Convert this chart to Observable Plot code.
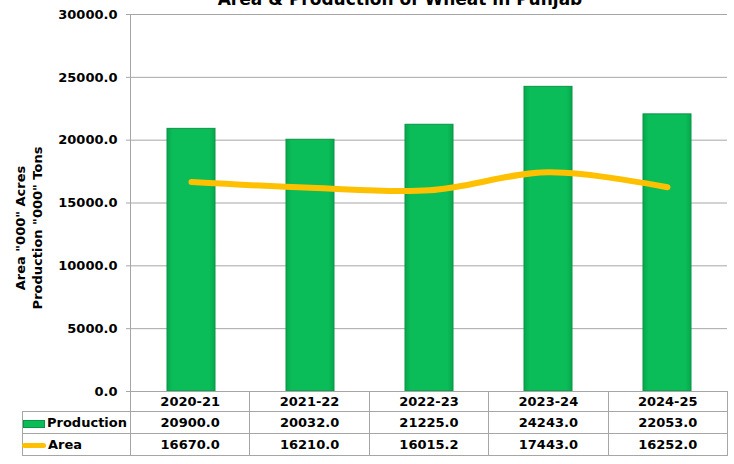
<!DOCTYPE html>
<html><head><meta charset="utf-8">
<script src="https://cdn.jsdelivr.net/npm/d3@7"></script>
<script src="https://cdn.jsdelivr.net/npm/@observablehq/plot@0.6"></script>
<style>
body{margin:0;background:#fff;}
#wrap{position:relative;width:734px;height:464px;overflow:hidden;font-family:"DejaVu Sans",Verdana,sans-serif;font-weight:bold;color:#000;}
#title{position:absolute;top:-11px;left:200px;width:400px;text-align:center;font-size:17px;white-space:nowrap;z-index:2;}
#chart{position:absolute;top:0;left:0;}
#ylab{position:absolute;left:29px;top:228px;transform:translate(-50%,-50%) rotate(-90deg);font-size:13px;line-height:17px;text-align:center;white-space:nowrap;}
#tbl{position:absolute;top:391px;left:22px;border-collapse:collapse;font-size:13px;table-layout:fixed;}
#tbl td{border:1px solid #a6a6a6;text-align:center;padding:0;white-space:nowrap;background:#fff;}
#tbl td.lg{text-align:left;}
#tbl td.blank{border:none;border-right:1px solid #a6a6a6;background:transparent;}
.ico{display:inline-block;vertical-align:middle;margin-right:2px;}
</style></head>
<body><div id="wrap">
<div id="title"></div>
<div id="chart"></div>
<div id="ylab"></div>
<table id="tbl"></table>
</div>
<script>
const title = "Area & Production of Wheat in Punjab";
const yLabelLines = ['Area "000" Acres', 'Production "000" Tons'];
const years = ["2020-21", "2021-22", "2022-23", "2023-24", "2024-25"];
const production = [20900.0, 20032.0, 21225.0, 24243.0, 22053.0];
const area = [16670.0, 16210.0, 16015.2, 17443.0, 16252.0];
const yTicks = [0, 5000, 10000, 15000, 20000, 25000, 30000];
const seriesNames = ["Production", "Area"];

const prodData = years.map((y, i) => ({year: y, value: production[i]}));
const areaData = years.map((y, i) => ({year: y, value: area[i]}));

document.getElementById("title").textContent = title;
document.getElementById("ylab").innerHTML = yLabelLines.map(s => s.replace(/"/g, "&quot;")).join("<br>");

const grid = "#a6a6a6";
const plot = Plot.plot({
  width: 734, height: 402,
  marginTop: 14, marginBottom: 11, marginLeft: 130, marginRight: 7,
  style: {fontFamily: "DejaVu Sans, Verdana, sans-serif", fontSize: "13px", fontWeight: "bold", color: "#000", background: "transparent"},
  x: {domain: years, paddingInner: 0.6, paddingOuter: 0.3, axis: null},
  y: {domain: [0, 30000], axis: null},
  marks: [
    Plot.gridY(yTicks, {stroke: grid, strokeOpacity: 1, strokeWidth: 1}),
    Plot.axisY(yTicks, {tickFormat: d => d.toFixed(1), tickSize: 4, tickPadding: 9, stroke: grid, label: null}),
    Plot.frame({anchor: "left", stroke: grid}),
    Plot.barY(prodData, {x: "year", y: "value", fill: "url(#barg)", stroke: "#0a9446", strokeWidth: 1}),
    Plot.lineY(areaData, {x: "year", y: "value", stroke: "#FFC000", strokeWidth: 6, curve: "catmull-rom", strokeLinecap: "round"})
  ]
});
const ns = "http://www.w3.org/2000/svg";
const defs = document.createElementNS(ns, "defs");
defs.innerHTML = '<linearGradient id="barg" x1="0" x2="1" y1="0" y2="0">' +
  '<stop offset="0" stop-color="#05a94d"/><stop offset="0.12" stop-color="#0bbd58"/>' +
  '<stop offset="0.88" stop-color="#0bbd58"/><stop offset="1" stop-color="#05a94d"/></linearGradient>';
plot.insertBefore(defs, plot.firstChild);
document.getElementById("chart").appendChild(plot);

// data table
const tbl = document.getElementById("tbl");
const colW = (734 - 7 - 130) / years.length;
let html = '<colgroup><col style="width:108px">' + years.map(() => `<col style="width:${colW}px">`).join("") + '</colgroup>';
html += '<tr style="height:20px"><td class="blank"></td>' + years.map(y => `<td>${y}</td>`).join("") + '</tr>';
const icons = [
  '<span class="ico" style="width:22px;height:8px;background:#0bbd58;border:1px solid #0a9446;box-sizing:border-box"></span>',
  '<span class="ico" style="width:24px;height:5px;background:#FFC000;border-radius:3px;margin-left:-1px"></span>'
];
[production, area].forEach((arr, k) => {
  html += `<tr style="height:22px"><td class="lg">${icons[k]}${seriesNames[k]}</td>` + arr.map(v => `<td>${v.toFixed(1)}</td>`).join("") + '</tr>';
});
tbl.innerHTML = html;
</script>
</body></html>
